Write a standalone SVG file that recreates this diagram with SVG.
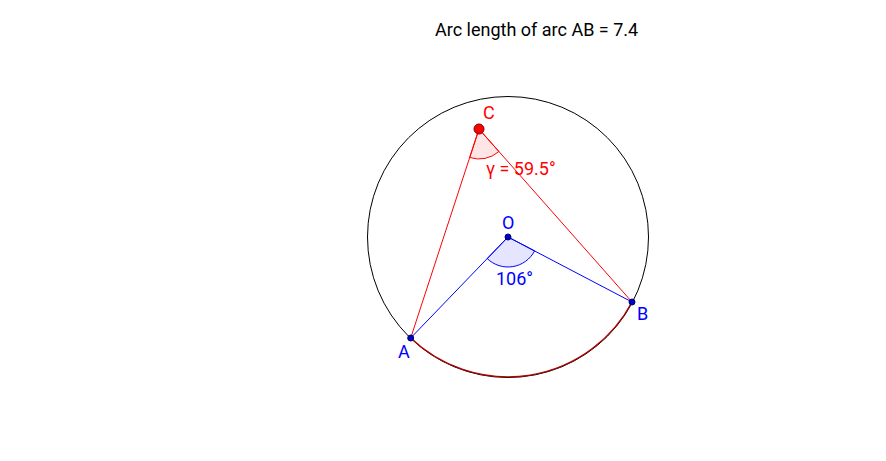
<svg xmlns="http://www.w3.org/2000/svg" width="886" height="461" viewBox="0 0 886 461">
<style>
text{font-family:Roboto,"Liberation Sans",sans-serif;font-size:18px}
.blue{fill:#0000ff}
.red{fill:#ff0000}
.pt{fill:#0000cc;stroke:#000066;stroke-width:1}
</style>
<rect width="886" height="461" fill="#ffffff"/>
<g id="circle">
<circle cx="508" cy="237" r="140.5" fill="none" stroke="#000000" stroke-width="1"/>
<path d="M410.7,338 A140.5,140.5 0 0 0 632,302" fill="none" stroke="#b00000" stroke-width="1.3"/>
</g>
<g id="angles">
<path d="M508,237 L487.2,258.6 A30,30 0 0 0 534.6,250.9 Z" fill="#0000ff" fill-opacity="0.1" stroke="#0000ff" stroke-width="1"/>
<path d="M479,129 L469.7,157.5 A30,30 0 0 0 498.9,151.5 Z" fill="#ff0000" fill-opacity="0.1" stroke="#ff0000" stroke-width="1"/>
</g>
<g id="connectors">
<line x1="479" y1="129" x2="410.7" y2="338" stroke="#ff0000" stroke-width="1"/>
<line x1="479" y1="129" x2="632" y2="302" stroke="#ff0000" stroke-width="1"/>
<line x1="508" y1="237" x2="410.7" y2="338" stroke="#0000ff" stroke-width="1"/>
<line x1="508" y1="237" x2="632" y2="302" stroke="#0000ff" stroke-width="1"/>
</g>
<g id="nodeO">
<circle class="pt" cx="508" cy="237" r="3"/>
<text class="blue" x="502" y="229">O</text>
<text class="blue" x="496" y="285">106°</text>
</g>
<g id="nodeA">
<circle class="pt" cx="410.7" cy="338" r="3"/>
<text class="blue" x="398" y="358">A</text>
</g>
<g id="nodeB">
<circle class="pt" cx="632" cy="302" r="3"/>
<text class="blue" x="637" y="320">B</text>
</g>
<g id="nodeC">
<circle cx="479" cy="129" r="5" fill="#ff0000" stroke="#800000" stroke-width="1"/>
<text class="red" x="483" y="119">C</text>
<text class="red" x="486" y="175">γ = 59.5°</text>
</g>
<g id="title">
<text x="435" y="36" fill="#000000">Arc length of arc AB = 7.4</text>
</g>
</svg>
